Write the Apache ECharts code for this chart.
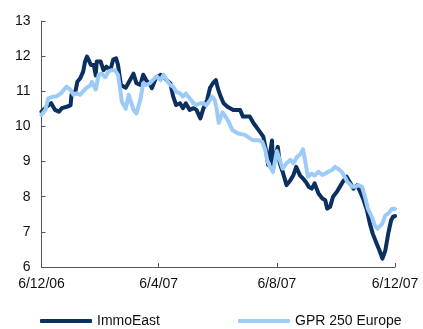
<!DOCTYPE html>
<html>
<head>
<meta charset="utf-8">
<script src="https://cdn.jsdelivr.net/npm/echarts@6/dist/echarts.min.js"></script>
<style>
  html, body { margin: 0; padding: 0; background: #fff; }
  #chart { width: 423px; height: 329px; }
</style>
</head>
<body>
<div id="chart"></div>
<script>
// Share price ImmoEast vs. GPR 250 Europe, Dec 2006 – Dec 2007
const startDate = '2006-12-06';
const tickDates = ['2006-12-06', '2007-04-06', '2007-08-06', '2007-12-06'];
const tickLabels = ['6/12/06', '6/4/07', '6/8/07', '6/12/07'];

// days since startDate
const immoEastDays = [0, 3, 7, 10, 14, 18, 21, 26, 30, 31, 35, 37, 40, 43, 45, 47, 51, 54, 56, 57,
  61, 64, 67, 71, 74, 77, 79, 82, 87, 90, 95, 98, 102, 105, 108, 112, 114, 118, 123, 126,
  129, 133, 136, 139, 143, 146, 149, 153, 157, 160, 164, 167, 171, 174, 177, 180, 182, 185, 188, 192,
  198, 205, 208, 215, 219, 224, 229, 232, 234, 238, 239, 244, 246, 249, 253, 257, 260, 263, 267, 270,
  273, 276, 279, 282, 286, 290, 293, 295, 298, 301, 305, 308, 311, 315, 319, 322, 326, 329, 332, 336,
  339, 342, 346, 349, 352, 355, 358, 361, 363, 365];
const immoEastValues = [10.42, 10.5, 10.6, 10.66, 10.47, 10.42, 10.52, 10.56, 10.6, 10.9, 10.99, 11.27, 11.37, 11.56, 11.85, 11.99, 11.75, 11.75, 11.45, 11.85,
  11.85, 11.6, 11.7, 11.6, 11.9, 11.94, 11.75, 11.18, 11.1, 11.25, 11.5, 11.23, 11.18, 11.47, 11.32, 11.2, 11.09, 11.37, 11.47, 11.42,
  11.32, 11.23, 10.85, 10.61, 10.66, 10.52, 10.66, 10.47, 10.52, 10.47, 10.23, 10.5, 10.75, 11.1, 11.23, 11.32, 11.09, 10.85, 10.66, 10.56,
  10.47, 10.47, 10.28, 10.28, 10.09, 9.9, 9.71, 9.3, 8.9, 9.6, 8.9, 9.42, 8.95, 8.71, 8.33, 8.47, 8.61, 8.85, 8.6, 8.52,
  8.42, 8.28, 8.23, 8.38, 8.09, 7.95, 7.9, 7.66, 7.71, 8.0, 8.14, 8.28, 8.42, 8.57, 8.38, 8.23, 8.33, 8.14, 7.95, 7.62,
  7.24, 6.95, 6.67, 6.47, 6.24, 6.47, 6.95, 7.33, 7.43, 7.45];

const gprDays = [0, 4, 7, 12, 15, 20, 23, 26, 30, 33, 36, 40, 43, 46, 51, 52, 56, 59, 62, 66,
  69, 72, 76, 79, 81, 83, 87, 90, 95, 98, 102, 105, 108, 112, 115, 119, 123, 126, 129, 133,
  136, 139, 143, 146, 149, 153, 157, 160, 164, 167, 170, 174, 176, 179, 181, 183, 187, 190, 193, 197,
  203, 210, 218, 224, 228, 231, 233, 236, 239, 243, 246, 249, 253, 257, 260, 264, 267, 270, 273, 275,
  279, 282, 286, 290, 293, 296, 300, 303, 306, 310, 313, 316, 321, 324, 327, 331, 334, 337, 341, 344,
  347, 352, 355, 358, 362, 365];
const gprValues = [10.33, 10.47, 10.8, 10.85, 10.85, 10.94, 11.04, 11.13, 11.04, 10.9, 10.94, 10.9, 11.0, 11.09, 11.18, 11.27, 11.05, 11.47, 11.5, 11.4,
  11.56, 11.6, 11.6, 11.47, 11.1, 10.7, 10.5, 10.9, 10.47, 10.37, 10.75, 11.23, 11.18, 11.23, 11.32, 11.42, 11.32, 11.47, 11.32, 11.18,
  11.13, 10.99, 10.94, 10.85, 10.94, 10.8, 10.66, 10.61, 10.66, 10.66, 10.6, 10.75, 10.85, 10.75, 10.47, 10.1, 10.4, 10.28, 10.15, 9.9,
  9.8, 9.76, 9.61, 9.61, 9.56, 9.33, 9.04, 8.85, 8.7, 9.3, 9.05, 8.8, 8.95, 9.05, 8.95, 9.14, 9.2, 9.35, 8.9, 8.57,
  8.66, 8.6, 8.71, 8.62, 8.66, 8.71, 8.76, 8.85, 8.8, 8.71, 8.57, 8.42, 8.28, 8.28, 8.33, 8.28, 8.0, 7.66, 7.43, 7.19,
  7.09, 7.24, 7.47, 7.52, 7.66, 7.65];

const DAY = 86400000;
const t0 = Date.parse(startDate);
const tickDays = tickDates.map(d => Math.round((Date.parse(d) - t0) / DAY));
const pairs = (xs, ys) => xs.map((x, i) => [x, ys[i]]);

const FONT = "'Liberation Sans', Arial, sans-serif";
const AXIS_COLOR = '#555555';

const chart = echarts.init(document.getElementById('chart'), null, { renderer: 'canvas' });
chart.setOption({
  animation: false,
  backgroundColor: '#ffffff',
  grid: { left: 41.5, right: 28, top: 21, bottom: 62, containLabel: false },
  xAxis: {
    type: 'value',
    min: 0,
    max: tickDays[tickDays.length - 1],
    axisLine: { show: true, lineStyle: { color: AXIS_COLOR, width: 1 } },
    axisTick: { show: true, inside: true, length: 4, customValues: tickDays, lineStyle: { color: AXIS_COLOR } },
    axisLabel: {
      customValues: tickDays,
      formatter: v => tickLabels[tickDays.indexOf(v)] || '',
      color: '#111', fontSize: 14, fontFamily: FONT, margin: 10
    },
    splitLine: { show: false }
  },
  yAxis: {
    type: 'value',
    min: 6, max: 13, interval: 1,
    axisLine: { show: true, lineStyle: { color: AXIS_COLOR, width: 1 } },
    axisTick: { show: true, inside: true, length: 4, lineStyle: { color: AXIS_COLOR } },
    axisLabel: { color: '#111', fontSize: 14, fontFamily: FONT, margin: 11 },
    splitLine: { show: false }
  },
  legend: {
    left: 40, top: 313,
    padding: 0,
    itemGap: 78,
    itemWidth: 52, itemHeight: 4,
    icon: 'roundRect',
    textStyle: { color: '#111', fontSize: 14, fontFamily: FONT, lineHeight: 16 },
    data: ['ImmoEast', 'GPR 250 Europe']
  },
  series: [
    {
      name: 'ImmoEast', type: 'line', showSymbol: false, symbol: 'none',
      data: pairs(immoEastDays, immoEastValues),
      lineStyle: { color: '#0B2F5E', width: 4, join: 'round', cap: 'round' },
      itemStyle: { color: '#0B2F5E' },
      z: 2
    },
    {
      name: 'GPR 250 Europe', type: 'line', showSymbol: false, symbol: 'none',
      data: pairs(gprDays, gprValues),
      lineStyle: { color: '#9CCBF8', width: 4, join: 'round', cap: 'round' },
      itemStyle: { color: '#9CCBF8' },
      z: 3
    }
  ]
});
</script>
</body>
</html>
